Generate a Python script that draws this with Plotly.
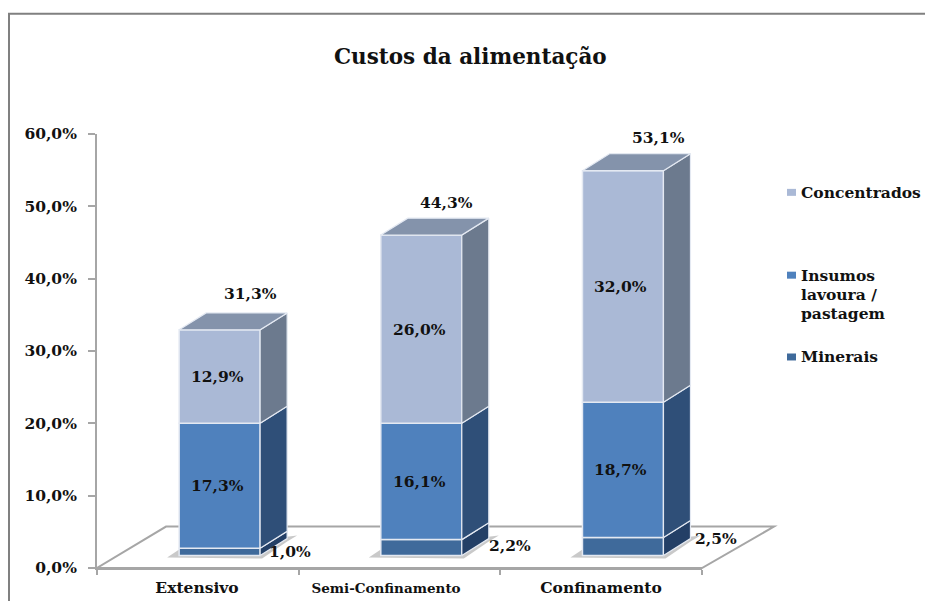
import plotly.graph_objects as go

categories = ["Extensivo", "Semi-Confinamento", "Confinamento"]
minerais = [1.0, 2.2, 2.5]
insumos = [17.3, 16.1, 18.7]
concentrados = [12.9, 26.0, 32.0]
totais = [31.3, 44.3, 53.1]
y_ticks = [0, 10, 20, 30, 40, 50, 60]
title = "Custos da alimentação"
legend_lines = [["Concentrados"], ["Insumos", "lavoura /", "pastagem"], ["Minerais"]]

# --- geometry (pixels of the 925x601 page)
W, H = 925, 601
L, R, T, B = 97, 702, 133.5, 568.5
FONT = "DejaVu Serif"
X0, X1 = -0.5, 2.5
Y0, Y1 = 0, 60
ux = (R - L) / (X1 - X0)   # px per category
uy = (B - T) / (Y1 - Y0)   # px per percent
BAR_W = 81 / ux
BAR_SHIFT = 21.8 / ux
BASE = 12.5 / uy           # bars stand on the floor, behind the front axis edge
DX, DY = 27 / ux, 17 / uy  # oblique depth of each bar


def px(x):
    return (x - L) / (R - L)


def py(y):
    return (B - y) / (B - T)


centers = [i + BAR_SHIFT for i in range(len(categories))]
series = [
    ("Minerais", minerais, "#3F6A9B", "#233F66", "#2F4F78"),
    ("Insumos lavoura / pastagem", insumos, "#4F81BD", "#2F4F78", "#3B6496"),
    ("Concentrados", concentrados, "#AAB9D6", "#6C7A8E", "#8493AB"),
]
EDGE = "#E4E9F2"

fig = go.Figure()
bottoms = [BASE] * 3
tops_all = []
for name, vals, front, side, top in series:
    fig.add_trace(go.Bar(
        x=centers, y=vals, base=bottoms, width=BAR_W, name=name,
        marker=dict(color=front, line=dict(color=EDGE, width=1.5)),
        showlegend=False, hoverinfo="skip",
    ))
    tops = [b + v for b, v in zip(bottoms, vals)]
    # Side faces, derived from the same values
    for c, b, t in zip(centers, bottoms, tops):
        xr = c + BAR_W / 2
        fig.add_trace(go.Scatter(
            x=[xr, xr + DX, xr + DX, xr, xr], y=[b, b + DY, t + DY, t, b],
            mode="lines", fill="toself", fillcolor=side,
            line=dict(color=EDGE, width=1.2), showlegend=False, hoverinfo="skip",
        ))
    bottoms = tops
    tops_all.append(tops)

# Top faces
front, side, top = series[-1][2:]
for c, t in zip(centers, tops_all[-1]):
    xl, xr = c - BAR_W / 2, c + BAR_W / 2
    fig.add_trace(go.Scatter(
        x=[xl, xr, xr + DX, xl + DX, xl], y=[t, t, t + DY, t + DY, t],
        mode="lines", fill="toself", fillcolor=top,
        line=dict(color=EDGE, width=1.2), showlegend=False, hoverinfo="skip",
    ))


def fmt(v):
    return f"{v:.1f}".replace(".", ",") + "%"


lab = dict(size=15.5, family=FONT, color="#111111", weight=700)
annotations = []
# Inside labels
stack = [BASE] * 3
for i, (name, vals, *_c) in enumerate(series):
    for j, v in enumerate(vals):
        if i == 0:
            ann = dict(x=centers[j] + BAR_W / 2, y=stack[j] + v / 2, xshift=[30, 48, 53][j],
                       yshift=[0, 2, 8][j])
        else:
            ann = dict(x=centers[j], y=stack[j] + v / 2, xshift=-2, yshift=0)
        annotations.append(dict(text=fmt(v), showarrow=False, font=lab, **ann))
        stack[j] += v
# Totals above the bars
for j, v in enumerate(totais):
    annotations.append(dict(
        x=centers[j], y=tops_all[-1][j], text=fmt(v), showarrow=False, font=lab,
        xshift=[30.5, 25.5, 35.5][j], yshift=[36, 33, 33][j],
    ))
# Title
annotations.append(dict(
    xref="paper", yref="paper", x=px(470), y=py(56), text=title, showarrow=False,
    xanchor="center", yanchor="middle",
    font=dict(size=21.5, family=FONT, color="#111111", weight=700),
))
# Legend, drawn by hand to keep the original's uneven spacing
shapes = []
legend_y = [[192], [275, 294, 313], [357]]
legend_col = [series[2][2], series[1][2], series[0][2]]
for lines, ys, col in zip(legend_lines, legend_y, legend_col):
    for s, yy in zip(lines, ys):
        annotations.append(dict(
            xref="paper", yref="paper", x=px(799), y=py(yy), text=s,
            xanchor="left", yanchor="middle", showarrow=False, font=lab,
        ))
    shapes.append(dict(type="rect", xref="paper", yref="paper", layer="above",
                       x0=px(787), x1=px(796), y0=py(ys[0] - 3.5), y1=py(ys[0] + 3.5),
                       fillcolor=col, line=dict(width=0)))

# Floor, in paper coordinates so it may run past the axes
floor = [(97, 568.5), (702, 568.5), (774, 527), (166, 527)]
path = "M " + " L ".join(f"{px(a):.5f} {py(b):.5f}" for a, b in floor) + " Z"
shapes.append(dict(type="path", xref="paper", yref="paper", layer="below", path=path,
                   fillcolor="white", line=dict(color="#A6A6A6", width=2)))
# Soft shadows cast on the floor by the bars
for c in centers:
    xl = L + (c - X0 - BAR_W / 2) * ux
    xr = xl + 81
    foot = B - BASE * uy
    pts = [(xl - 12, foot + 2), (xl, foot - 6), (xr + 27 + 10, foot - 20), (xr + 27, foot - 14), (xr + 2, foot + 3)]
    shadow = "M " + " L ".join(f"{px(a):.5f} {py(b):.5f}" for a, b in pts) + " Z"
    shapes.append(dict(type="path", xref="paper", yref="paper", layer="below", path=shadow,
                       fillcolor="rgba(120,120,120,0.4)", line=dict(width=0)))
# Outer frame
shapes.append(dict(type="path", xref="paper", yref="paper", layer="below",
                   path=f"M {px(9):.5f} {py(H + 5):.5f} L {px(9):.5f} {py(13):.5f} L {px(925):.5f} {py(13):.5f}",
                   line=dict(color="#808080", width=2)))

# The long middle label is narrower in the original, so it is set a little smaller
tick_labels = [categories[0], f'<span style="font-size:13.5px">{categories[1]}</span>', categories[2]]

fig.update_layout(
    width=W, height=H, autosize=False,
    margin=dict(l=L, r=W - R, t=T, b=H - B, pad=0),
    paper_bgcolor="white", plot_bgcolor="rgba(0,0,0,0)",
    barmode="overlay", showlegend=False,
    annotations=annotations, shapes=shapes,
    xaxis=dict(
        range=[X0, X1], tickmode="array", automargin=False,
        tickvals=[(197 - L) / ux + X0, (386 - L) / ux + X0, (601 - L) / ux + X0],
        ticktext=tick_labels, tickfont=lab, ticks="outside", ticklen=4,
        tickcolor="rgba(0,0,0,0)", showline=True, linecolor="#A6A6A6", linewidth=2,
        showgrid=False, zeroline=False,
        minor=dict(tickmode="array", tickvals=[-0.5, 0.5, 1.5, 2.5], ticks="outside",
                   ticklen=5, tickcolor="#A6A6A6", tickwidth=2, showgrid=False),
    ),
    yaxis=dict(
        range=[Y0, Y1], tickmode="array", tickvals=y_ticks, automargin=False,
        ticktext=[fmt(v) for v in y_ticks], tickfont=lab, ticks="outside", ticklen=7,
        ticklabelstandoff=8,
        tickcolor="#A6A6A6", tickwidth=2, showline=True, linecolor="#A6A6A6", linewidth=2,
        showgrid=False, zeroline=False,
    ),
)
fig.write_html("out.html", config={"displayModeBar": False},
               post_script="document.body.style.margin='0';")
